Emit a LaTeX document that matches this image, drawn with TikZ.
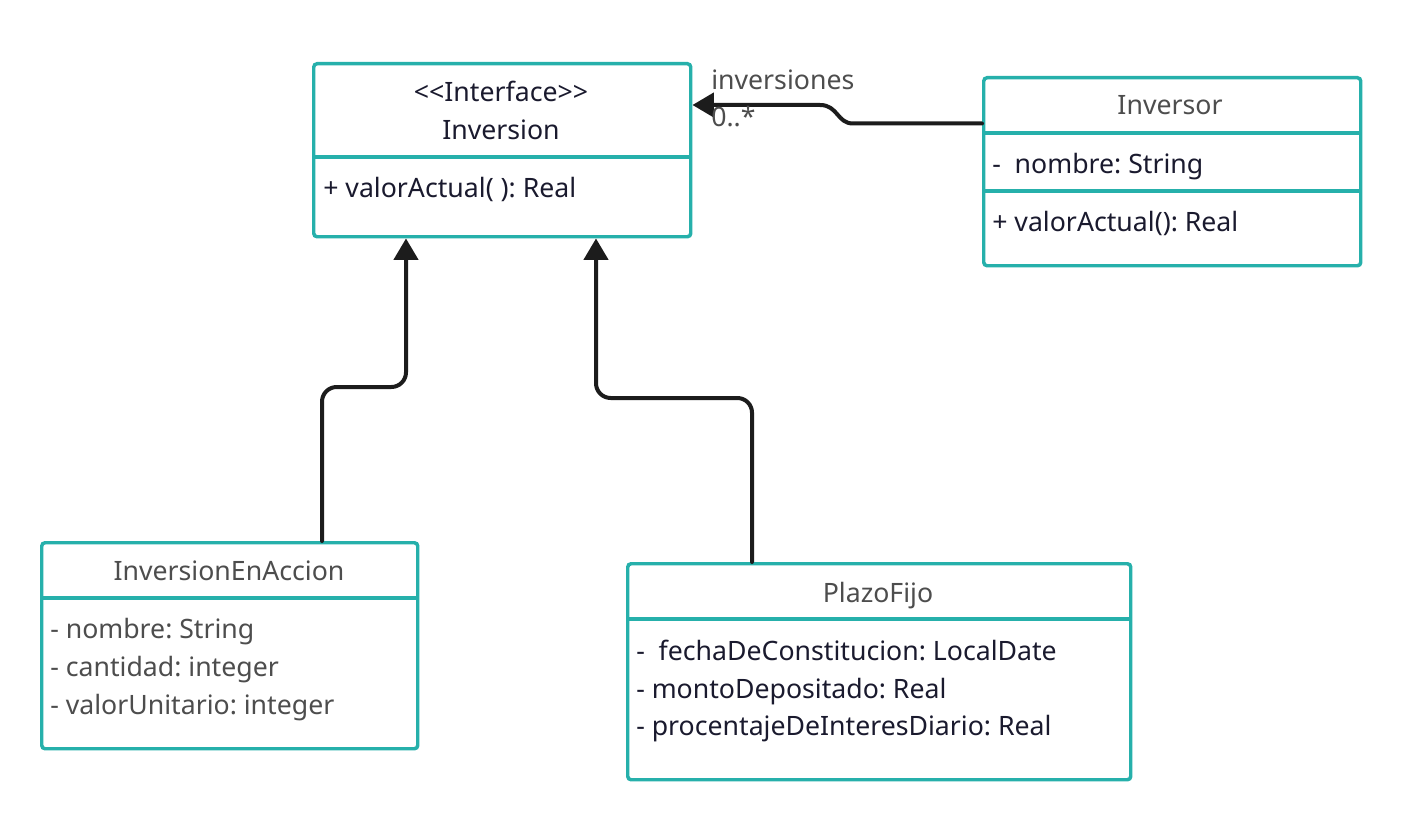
\documentclass[tikz,border=0pt]{standalone}
\usepackage{fontspec}
\setmainfont{Noto Sans}
\usetikzlibrary{arrows.meta}
\definecolor{teal}{RGB}{38,176,171}
\definecolor{ink}{RGB}{26,26,46}
\definecolor{grayt}{RGB}{77,77,77}
\definecolor{lineblk}{RGB}{28,28,28}
\frenchspacing
\tikzset{
  box/.style={draw=teal, line width=2.6pt, rounded corners=2.5pt, inner sep=0pt, anchor=north west},
  divider/.style={draw=teal, line width=2.6pt},
  txt/.style={inner sep=0pt, anchor=base west, font=\fontsize{20pt}{24pt}\selectfont, text=ink},
  ctxt/.style={txt, anchor=base},
  conn/.style={draw=lineblk, line width=3pt, line cap=round, line join=round},
  gen/.style={conn, -{Triangle[length=16pt,width=18pt]}}
}
\begin{document}
\begin{tikzpicture}[x=0.75pt,y=-0.75pt]
\useasboundingbox[fill=white] (0,0) rectangle (1401,820);

% Inversion
\node[box, minimum width=282.75pt, minimum height=129.75pt] (inv) at (312,62) {};
\draw[divider] (inv.west |- 0,157) -- (inv.east |- 0,157);
\node[ctxt] (invst) at (501,101.5) {<{}<Interface>{}>};
\node[ctxt] (invt) at (501,140) {Inversion};
\node[txt] (invm) at (323,197) {+ valorActual( ): Real};

% Inversor
\node[box, minimum width=282.75pt, minimum height=141pt] (ivs) at (982,76) {};
\draw[divider] (ivs.west |- 0,133) -- (ivs.east |- 0,133);
\draw[divider] (ivs.west |- 0,191) -- (ivs.east |- 0,191);
\node[ctxt, text=grayt] (ivst) at (1170,115) {Inversor};
\node[txt] (ivsa) at (992,173) {-\ \ nombre: String};
\node[txt] (ivsm) at (992,231.5) {+ valorActual(): Real};

% InversionEnAccion
\node[box, minimum width=282pt, minimum height=154.5pt] (iea) at (40,541) {};
\draw[divider] (iea.west |- 0,598) -- (iea.east |- 0,598);
\node[ctxt, text=grayt] (ieat) at (229,580) {InversionEnAccion};
\node[txt, text=grayt] (iea1) at (50,638) {- nombre: String};
\node[txt, text=grayt] (iea2) at (50,676) {- cantidad: integer};
\node[txt, text=grayt] (iea3) at (50,714) {- valorUnitario: integer};

% PlazoFijo
\node[box, minimum width=377.25pt, minimum height=162pt] (pf) at (626,562) {};
\draw[divider] (pf.west |- 0,619) -- (pf.east |- 0,619);
\node[ctxt, text=grayt] (pft) at (878,602) {PlazoFijo};
\node[txt] (pf1) at (636,660) {-\ \ fechaDeConstitucion: LocalDate};
\node[txt] (pf2) at (636,698) {- montoDepositado: Real};
\node[txt] (pf3) at (636,735.5) {- procentajeDeInteresDiario: Real};

% association
\draw[conn, -{Triangle[length=16pt,width=18pt]}] (ivs.west |- 0,123.5) -- (853,123.5)
  .. controls (837,123.5) and (838,105) .. (820,105) -- (inv.east |- 0,105);
\node[txt, text=grayt] (lbl1) at (711,89.5) {inversiones};
\node[txt, text=grayt] (lbl2) at (711,127) {0..*};

% generalizations
\draw[gen, rounded corners=11pt] (iea.north -| 322,0) -- (322,387) -- (406,387) -- (inv.south -| 406,0);
\draw[gen, rounded corners=11pt] (pf.north -| 752,0) -- (752,398) -- (596,398) -- (inv.south -| 596,0);
\end{tikzpicture}
\end{document}
